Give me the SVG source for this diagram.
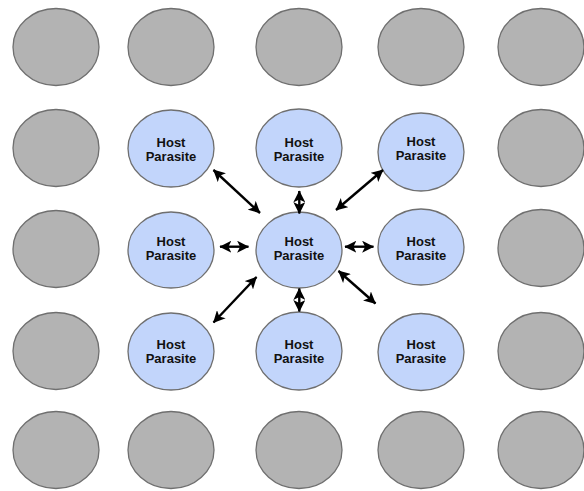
<svg xmlns="http://www.w3.org/2000/svg" width="584" height="491" viewBox="0 0 584 491">
<style>
.g{fill:#b3b3b3;stroke:#6f6f6f;stroke-width:1.3}
.b{fill:#c2d5fb;stroke:#6f6f6f;stroke-width:1.3}
.t{font-family:"Liberation Sans",Arial,sans-serif;font-weight:bold;font-size:13px;fill:#111;text-anchor:middle}
.a{stroke:#000;stroke-width:2.4;fill:none;marker-start:url(#ah);marker-end:url(#ah)}
</style>
<defs>
<marker id="ah" markerUnits="userSpaceOnUse" markerWidth="12" markerHeight="12" refX="9.5" refY="5" orient="auto-start-reverse" viewBox="0 0 10 10">
<path d="M0,0 L10,5 L0,10 L2.5,5 z" fill="#000"/>
</marker>
</defs>
<rect width="584" height="491" fill="#fff"/>
<g id="grid">
<g id="n11"><ellipse class="g" cx="56" cy="47" rx="43" ry="38.5"/></g>
<g id="n12"><ellipse class="g" cx="171" cy="47" rx="43" ry="38.5"/></g>
<g id="n13"><ellipse class="g" cx="299" cy="47" rx="43" ry="38.5"/></g>
<g id="n14"><ellipse class="g" cx="421" cy="47" rx="43" ry="38.5"/></g>
<g id="n15"><ellipse class="g" cx="541" cy="47" rx="43" ry="38.5"/></g>
<g id="n21"><ellipse class="g" cx="56" cy="148" rx="43" ry="38.5"/></g>
<g id="n25"><ellipse class="g" cx="541" cy="148" rx="43" ry="38.5"/></g>
<g id="n31"><ellipse class="g" cx="56" cy="249" rx="43" ry="38.5"/></g>
<g id="n35"><ellipse class="g" cx="541" cy="248" rx="43" ry="38.5"/></g>
<g id="n41"><ellipse class="g" cx="56" cy="351" rx="43" ry="38.5"/></g>
<g id="n45"><ellipse class="g" cx="541" cy="351" rx="43" ry="38.5"/></g>
<g id="n51"><ellipse class="g" cx="56" cy="450" rx="43" ry="38.5"/></g>
<g id="n52"><ellipse class="g" cx="171" cy="450" rx="43" ry="38.5"/></g>
<g id="n53"><ellipse class="g" cx="299" cy="450" rx="43" ry="38.5"/></g>
<g id="n54"><ellipse class="g" cx="421" cy="450" rx="43" ry="38.5"/></g>
<g id="n55"><ellipse class="g" cx="541" cy="450" rx="43" ry="38.5"/></g>
</g>
<g id="n22"><ellipse class="b" cx="171" cy="148.5" rx="43" ry="38.5"/><text class="t" x="171" y="146.5">Host</text><text class="t" x="171" y="160.5">Parasite</text></g>
<g id="n23"><ellipse class="b" cx="299" cy="148" rx="43" ry="39"/><text class="t" x="299" y="146.5">Host</text><text class="t" x="299" y="160.5">Parasite</text></g>
<g id="n24"><ellipse class="b" cx="421" cy="152" rx="43" ry="39"/><text class="t" x="421" y="146">Host</text><text class="t" x="421" y="160">Parasite</text></g>
<g id="n32"><ellipse class="b" cx="171" cy="250" rx="43" ry="38"/><text class="t" x="171" y="245.5">Host</text><text class="t" x="171" y="259.5">Parasite</text></g>
<g id="n33"><ellipse class="b" cx="299" cy="250" rx="43" ry="38"/><text class="t" x="299" y="245.5">Host</text><text class="t" x="299" y="259.5">Parasite</text></g>
<g id="n34"><ellipse class="b" cx="421" cy="247" rx="43" ry="38"/><text class="t" x="421" y="245.5">Host</text><text class="t" x="421" y="259.5">Parasite</text></g>
<g id="n42"><ellipse class="b" cx="171" cy="351.5" rx="43" ry="38.5"/><text class="t" x="171" y="349">Host</text><text class="t" x="171" y="363">Parasite</text></g>
<g id="n43"><ellipse class="b" cx="299" cy="351" rx="43" ry="39"/><text class="t" x="299" y="349">Host</text><text class="t" x="299" y="363">Parasite</text></g>
<g id="n44"><ellipse class="b" cx="421" cy="352" rx="43" ry="38.5"/><text class="t" x="421" y="349">Host</text><text class="t" x="421" y="363">Parasite</text></g>
<g id="connectors">
<line class="a" x1="213.5" y1="170" x2="260" y2="213"/>
<line class="a" x1="299.3" y1="191" x2="299.3" y2="213.5"/>
<line class="a" x1="336" y1="210" x2="383" y2="170"/>
<line class="a" x1="220" y1="246.7" x2="248.5" y2="246.7"/>
<line class="a" x1="345" y1="246.7" x2="373.5" y2="246.7"/>
<line class="a" x1="256.5" y1="277" x2="213.5" y2="322.5"/>
<line class="a" x1="299.3" y1="288.5" x2="299.3" y2="311.5"/>
<line class="a" x1="338.5" y1="271" x2="375.5" y2="303.5"/>
</g>
</svg>
